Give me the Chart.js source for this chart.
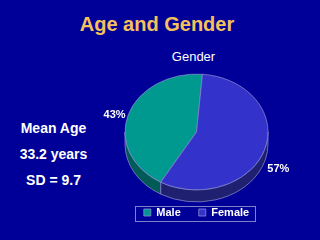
<!DOCTYPE html>
<html>
<head>
<meta charset="utf-8">
<script src="https://cdn.jsdelivr.net/npm/chart.js@4/dist/chart.umd.min.js"></script>
<style>
  html, body { margin: 0; padding: 0; }
  body {
    width: 320px; height: 240px; overflow: hidden; position: relative;
    background: #000099;
    font-family: "Liberation Sans", Arial, sans-serif;
  }
  #chart { position: absolute; left: 0; top: 0; }
  .title {
    position: absolute; left: 0; top: 11px; width: 314px; text-align: center;
    color: #f5c15c; font-weight: bold; font-size: 20px; line-height: 26px;
  }
  .subtitle {
    position: absolute; left: 150px; top: 49px; width: 87px; text-align: center;
    color: #ffffff; font-size: 13px; line-height: 16px;
  }
  .stats {
    position: absolute; left: 0; top: 115px; width: 107px; text-align: center;
    color: #ffffff; font-weight: bold; font-size: 14px; line-height: 26px;
  }
</style>
</head>
<body>
<div class="title">Age and Gender</div>
<div class="subtitle">Gender</div>
<div class="stats">Mean Age<br>33.2 years<br>SD = 9.7</div>
<canvas id="chart" width="320" height="240"></canvas>
<script>
// Chart data
const genders = ['Male', 'Female'];
const genderShare = [43, 57];
const sliceColors = ['#009990', '#3333cc'];
const sideColors = ['#005a55', '#202070'];

const tilt = 0.81;   // vertical squash of the pie
const depth = 12;    // thickness of the pie edge, px

// Squash the pie into an ellipse and give it a side wall
const pie3d = {
  id: 'pie3d',
  beforeDatasetsDraw(chart) {
    const ctx = chart.ctx;
    const arcs = chart.getDatasetMeta(0).data;
    const cx = arcs[0].x, cy = arcs[0].y;
    ctx.save();
    ctx.translate(cx, cy);
    ctx.scale(1, tilt);
    ctx.translate(-cx, -cy);

    const d = depth / tilt;
    arcs.forEach((arc, i) => {
      const r = arc.outerRadius;
      for (let n = -2; n <= 2; n++) {
        const a = Math.max(arc.startAngle + n * 2 * Math.PI, 0);
        const b = Math.min(arc.endAngle + n * 2 * Math.PI, Math.PI);
        if (b <= a) continue;
        ctx.beginPath();
        ctx.arc(cx, cy, r, a, b);
        ctx.arc(cx, cy + d, r, b, a, true);
        ctx.closePath();
        ctx.fillStyle = sideColors[i];
        ctx.fill();
        ctx.lineWidth = 0.8;
        ctx.strokeStyle = '#8c8cd0';
        ctx.stroke();
      }
    });
  },
  afterDatasetsDraw(chart) {
    const ctx = chart.ctx;
    ctx.restore();

    // percentage labels outside the slices
    const arcs = chart.getDatasetMeta(0).data;
    const total = genderShare.reduce((s, v) => s + v, 0);
    ctx.save();
    ctx.fillStyle = '#ffffff';
    ctx.font = 'bold 11px "Liberation Sans", Arial, sans-serif';
    ctx.textAlign = 'center';
    ctx.textBaseline = 'middle';
    arcs.forEach((arc, i) => {
      const mid = (arc.startAngle + arc.endAngle) / 2;
      const r = arc.outerRadius * 1.2;
      const x = arc.x + Math.cos(mid) * r;
      let y = arc.y + Math.sin(mid) * r * tilt + depth / 3;
      if (Math.sin(mid) > 0) y += depth;
      ctx.fillText(Math.round(genderShare[i] / total * 100) + '%', x, y);
    });
    ctx.restore();
  },
  afterDraw(chart) {
    // frame around the legend
    const boxes = chart.legend.legendHitBoxes;
    if (!boxes || !boxes.length) return;
    const left = Math.min(...boxes.map(b => b.left)) - 9;
    const right = Math.max(...boxes.map(b => b.left + b.width)) + 6;
    const top = Math.min(...boxes.map(b => b.top)) - 1.5;
    const bottom = Math.max(...boxes.map(b => b.top + b.height)) + 2;
    const ctx = chart.ctx;
    ctx.save();
    ctx.strokeStyle = '#8080c8';
    ctx.lineWidth = 1;
    ctx.strokeRect(Math.round(left) + 0.5, Math.round(top) + 0.5,
      Math.round(right - left), Math.round(bottom - top));
    ctx.restore();
  }
};

new Chart(document.getElementById('chart'), {
  type: 'pie',
  data: {
    labels: genders,
    datasets: [{
      data: genderShare,
      backgroundColor: sliceColors,
      borderColor: '#8c8cd0',
      borderWidth: 0.8,
      radius: 71.5,
      clip: false
    }]
  },
  options: {
    responsive: false,
    animation: false,
    rotation: 210,
    layout: {
      padding: { left: 116.5, right: 43.5, top: 75, bottom: 12 }
    },
    plugins: {
      tooltip: { enabled: false },
      title: { display: false },
      legend: {
        position: 'bottom',
        fullSize: false,
        labels: {
          color: '#ffffff',
          boxWidth: 7,
          boxHeight: 7,
          padding: 18,
          font: { family: '"Liberation Sans", Arial, sans-serif', size: 11, weight: 'bold' }
        }
      }
    }
  },
  plugins: [pie3d]
});
</script>
</body>
</html>
